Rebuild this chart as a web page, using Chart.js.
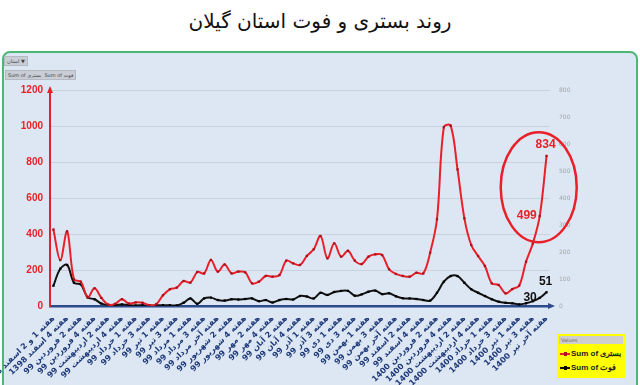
<!DOCTYPE html>
<html>
<head>
<meta charset="utf-8">
<script src="https://cdn.jsdelivr.net/npm/chart.js@4"></script>
<style>
  body { margin: 0; width: 640px; height: 385px; overflow: hidden; background: #fff; position: relative; font-family: "DejaVu Sans", sans-serif; }
  .title { position: absolute; top: 9px; left: 0; width: 640px; text-align: center; font-size: 20px; color: #111; direction: rtl; }
  .frame { position: absolute; left: 2px; top: 51px; width: 632px; height: 360px; border: 2px solid #4cb878; border-radius: 8px; background: #dde7f3; }
  .btn { position: absolute; background: #c9ced6; color: #444; font: 5px "DejaVu Sans", sans-serif; padding: 1px 2px; border: 1px solid #b5bac2; white-space: nowrap; }
  .legend { position: absolute; left: 557px; top: 334px; width: 68px; height: 44px; background: #ffff00; font: bold 8px "Liberation Sans Narrow", "Liberation Sans", sans-serif; color: #222; white-space: nowrap; }
  .legend .hd { background: #cfcfcf; color: #666; font: 5px "DejaVu Sans", sans-serif; padding: 1px 2px; margin: 2px 2px 0 2px; }
  .legend .row { display: flex; align-items: center; margin: 5px 0 0 3px; }
  .legend .mk { width: 10px; height: 2px; margin-right: 1px; position: relative; flex: none; }
  .legend .mk i { position: absolute; left: 4px; top: -1px; width: 3px; height: 4px; }
  canvas { position: absolute; left: 0; top: 0; }
</style>
</head>
<body>
<div class="title">روند بستری و فوت استان گیلان</div>
<div class="frame"></div>
<div class="btn" style="left:4px;top:56px;">استان ▼</div>
<div class="btn" style="left:5px;top:70px;">Sum of بستری &nbsp;Sum of فوت</div>
<div class="legend">
  <div class="hd">Values</div>
  <div class="row"><span class="mk" style="background:#e8202a"><i style="background:#b01020"></i></span>Sum of بستری</div>
  <div class="row"><span class="mk" style="background:#111"><i style="background:#000"></i></span>Sum of فوت</div>
</div>
<canvas id="chart" width="640" height="385"></canvas>
<script>
const weeks = [
    'هفته 1 و 2 اسفند 1398', 'هفته 3 اسفند 1398', 'هفته 4 اسفند 1398',
    'هفته 1 فروردین 99', 'هفته 2 فروردین 99', 'هفته 3 فروردین 99', 'هفته 4 فروردین 99',
    'هفته 1 اردیبهشت 99', 'هفته 2 اردیبهشت 99', 'هفته 3 اردیبهشت 99', 'هفته 4 اردیبهشت 99', 'هفته آخر اردیبهشت 99',
    'هفته 1 خرداد 99', 'هفته 2 خرداد 99', 'هفته 3 خرداد 99', 'هفته 4 خرداد 99',
    'هفته 1 تیر 99', 'هفته 2 تیر 99', 'هفته 3 تیر 99', 'هفته 4 تیر 99',
    'هفته 1 مرداد 99', 'هفته 2 مرداد 99', 'هفته 3 مرداد 99', 'هفته 4 مرداد 99', 'هفته آخر مرداد 99',
    'هفته 1 شهریور 99', 'هفته 2 شهریور 99', 'هفته 3 شهریور 99', 'هفته 4 شهریور 99',
    'هفته 1 مهر 99', 'هفته 2 مهر 99', 'هفته 3 مهر 99', 'هفته 4 مهر 99',
    'هفته 1 آبان 99', 'هفته 2 آبان 99', 'هفته 3 آبان 99', 'هفته 4 آبان 99', 'هفته آخر آبان 99',
    'هفته 1 آذر 99', 'هفته 2 آذر 99', 'هفته 3 آذر 99', 'هفته 4 آذر 99',
    'هفته 1 دی 99', 'هفته 2 دی 99', 'هفته 3 دی 99', 'هفته 4 دی 99',
    'هفته 1 بهمن 99', 'هفته 2 بهمن 99', 'هفته 3 بهمن 99', 'هفته 4 بهمن 99', 'هفته آخر بهمن 99',
    'هفته 1 اسفند 99', 'هفته 2 اسفند 99', 'هفته 3 اسفند 99', 'هفته 4 اسفند 99',
    'هفته 1 فروردین 1400', 'هفته 2 فروردین 1400', 'هفته 3 فروردین 1400', 'هفته 4 فروردین 1400',
    'هفته 1 اردیبهشت 1400', 'هفته 2 اردیبهشت 1400', 'هفته 3 اردیبهشت 1400', 'هفته 4 اردیبهشت 1400', 'هفته آخر اردیبهشت 1400',
    'هفته 1 خرداد 1400', 'هفته 2 خرداد 1400', 'هفته 3 خرداد 1400', 'هفته 4 خرداد 1400',
    'هفته 1 تیر 1400', 'هفته 2 تیر 1400', 'هفته 3 تیر 1400', 'هفته 4 تیر 1400', 'هفته آخر تیر 1400'
];

// بستری (left axis)
const hospitalized = [
    425, 255, 415, 148, 135, 48, 98, 45, 8, 12, 38, 14, 20, 18, 5, 10, 60,
    93, 102, 139, 130, 189, 181, 256, 191, 231, 181, 191, 187, 126, 135, 167, 163, 172, 252, 237, 228,
    278, 315, 389, 265, 348, 274, 307, 252, 233, 274, 287, 283,
    204, 178, 167, 163, 185, 181, 296, 482, 993, 1002, 759, 487, 339, 278, 222, 126, 117, 70, 94, 113, 246, 348, 499, 834
];

// فوت (right axis)
const deaths = [
    75, 138, 152, 86, 80, 32, 25, 9, 4, 4, 6, 4, 2, 3, 1, 2, 3,
    3, 2, 12, 28, 8, 28, 31,
    22, 20, 25, 24, 26, 28, 18, 22, 13, 22,
    26, 24, 37, 35, 28, 49, 41, 52, 56, 56, 38, 43, 53, 57, 44, 47, 36, 29, 28, 26, 22,
    20, 49, 90, 111, 111, 86, 62, 49, 37, 25, 16, 12, 10, 6, 10, 18, 30, 51
];

const leftTicks = [0, 200, 400, 600, 800, 1000, 1200];
const rightTicks = [0, 100, 200, 300, 400, 500, 600, 700, 800];

// annotated points: [dataset index, data index, text]
const callouts = [[0, 72, '834'], [0, 71, '499'], [1, 72, '51'], [1, 71, '30']];

const RED = '#e8202a';
const NAVY = '#2c4a8c';

const decorations = {
    id: 'decorations',
    afterDatasetsDraw(chart) {
        const ctx = chart.ctx;
        const area = chart.chartArea;
        const x = chart.scales.x;
        const yL = chart.scales.y;

        ctx.save();
        // arrow heads on axes
        ctx.fillStyle = RED;
        ctx.beginPath();
        ctx.moveTo(area.left, area.top - 4);
        ctx.lineTo(area.left - 3, area.top + 3);
        ctx.lineTo(area.left + 3, area.top + 3);
        ctx.fill();
        ctx.fillStyle = NAVY;
        ctx.beginPath();
        ctx.moveTo(area.right + 5, area.bottom);
        ctx.lineTo(area.right - 2, area.bottom - 3);
        ctx.lineTo(area.right - 2, area.bottom + 3);
        ctx.fill();

        // red ellipse around the last weeks
        ctx.strokeStyle = RED;
        ctx.lineWidth = 2.5;
        ctx.beginPath();
        ctx.ellipse(x.getPixelForValue(71) - 1, yL.getPixelForValue(660), 38, 55, 0, 0, Math.PI * 2);
        ctx.stroke();

        // value callouts
        ctx.font = 'bold 12px "Liberation Sans Narrow", "Liberation Sans", sans-serif';
        ctx.textBaseline = 'middle';
        callouts.forEach(([ds, i, txt]) => {
            const pt = chart.getDatasetMeta(ds).data[i];
            ctx.fillStyle = ds === 0 ? RED : '#111';
            if (i === 72) {
                ctx.textAlign = 'center';
                ctx.fillText(txt, pt.x - 1, pt.y - 11);
            } else {
                ctx.textAlign = 'right';
                ctx.fillText(txt, pt.x - 3, pt.y);
            }
        });
        ctx.restore();
    }
};

function fixWidth(w) {
    return function(scale) {
        scale.width = w;
        scale.paddingTop = 0;
        scale.paddingBottom = 0;
    };
}

const ctx = document.getElementById('chart').getContext('2d');
new Chart(ctx, {
    type: 'line',
    data: {
        labels: weeks,
        datasets: [{
            label: 'Sum of بستری',
            data: hospitalized,
            yAxisID: 'y',
            borderColor: RED,
            borderWidth: 2,
            pointRadius: 1.6,
            pointStyle: 'rect',
            pointBackgroundColor: '#a8101c',
            pointBorderWidth: 0,
            tension: 0.35
        }, {
            label: 'Sum of فوت',
            data: deaths,
            yAxisID: 'y1',
            borderColor: '#111',
            borderWidth: 2,
            pointRadius: 1.6,
            pointStyle: 'rect',
            pointBackgroundColor: '#000',
            pointBorderWidth: 0,
            tension: 0.35
        }]
    },
    options: {
        responsive: false,
        animation: false,
        layout: { padding: { top: 90, left: 0, right: 0, bottom: 0 } },
        plugins: {
            legend: { display: false },
            tooltip: { enabled: false }
        },
        scales: {
            x: {
                offset: true,
                grid: { display: false, drawTicks: false },
                border: { color: NAVY, width: 2.5 },
                ticks: {
                    autoSkip: false,
                    minRotation: 45,
                    maxRotation: 45,
                    padding: 8,
                    color: '#1f3a7a',
                    font: { size: 8, weight: 'bold', family: '"DejaVu Sans", sans-serif' },
                    callback: function(value, index) {
                        return index % 2 === 0 ? weeks[index] : '';
                    }
                },
                afterFit: function(scale) {
                    scale.height = 79;
                    scale.paddingLeft = 0;
                    scale.paddingRight = 0;
                }
            },
            y: {
                position: 'left',
                min: leftTicks[0],
                max: leftTicks[leftTicks.length - 1],
                afterBuildTicks: function(scale) {
                    scale.ticks = leftTicks.map(v => ({ value: v }));
                },
                grid: { color: '#c8d2de', drawTicks: false },
                border: { color: RED, width: 2 },
                ticks: {
                    padding: 7,
                    color: RED,
                    font: { size: 10, weight: 'bold', family: '"Liberation Sans Narrow", "Liberation Sans", sans-serif' },
                    callback: v => String(v)
                },
                afterFit: fixWidth(50)
            },
            y1: {
                position: 'right',
                min: rightTicks[0],
                max: rightTicks[rightTicks.length - 1],
                afterBuildTicks: function(scale) {
                    scale.ticks = rightTicks.map(v => ({ value: v }));
                },
                grid: { display: false, drawTicks: false },
                border: { display: false },
                ticks: {
                    padding: 9,
                    color: '#a0a4aa',
                    font: { size: 6, family: '"DejaVu Sans", sans-serif' },
                    callback: v => String(v)
                },
                afterFit: fixWidth(90)
            }
        }
    },
    plugins: [decorations]
});
</script>
</body>
</html>
